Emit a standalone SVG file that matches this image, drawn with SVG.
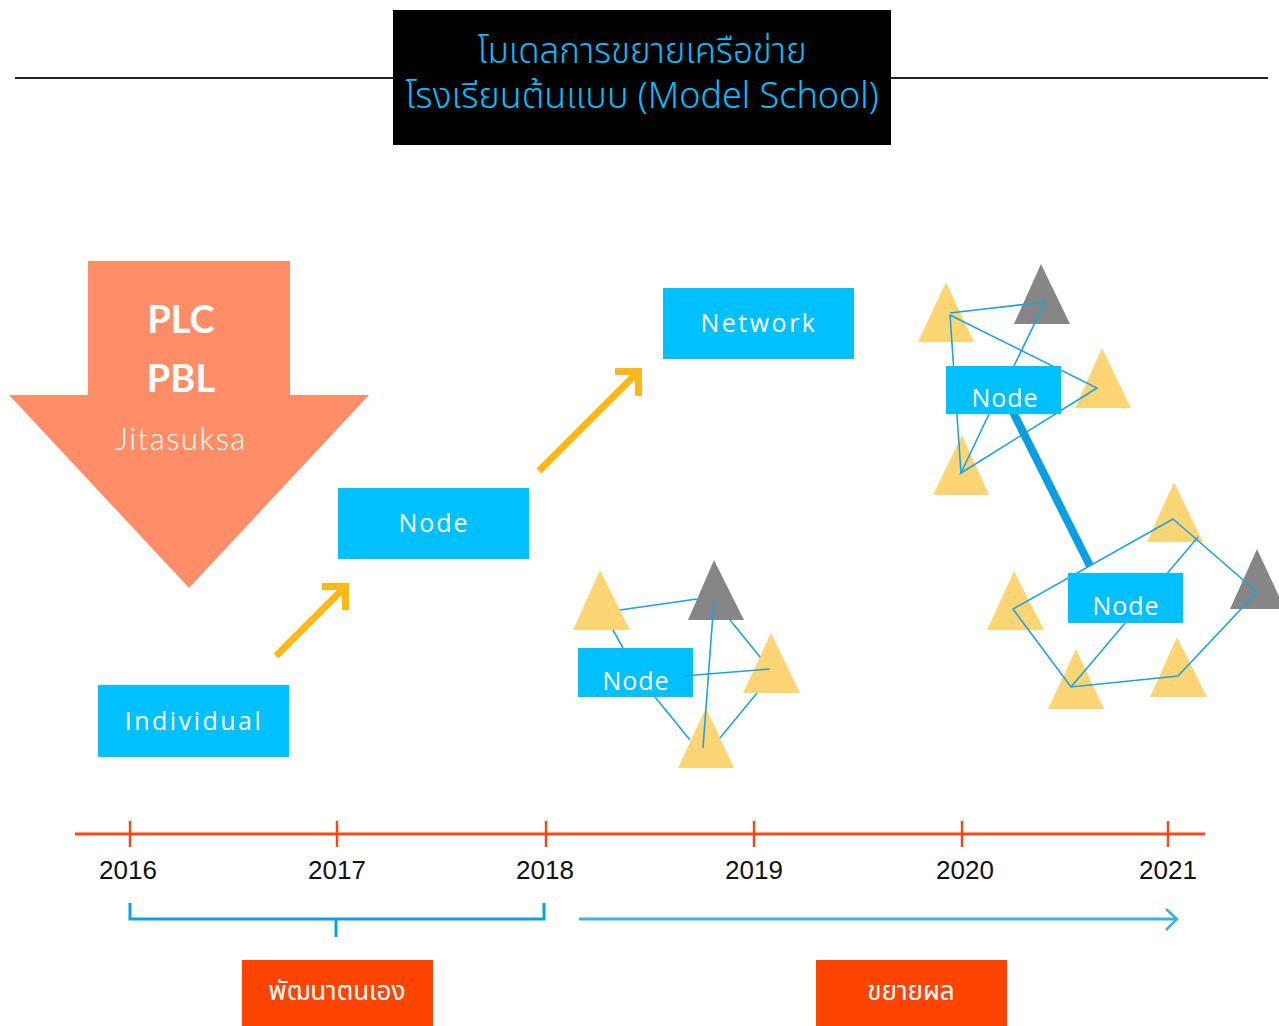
<svg xmlns="http://www.w3.org/2000/svg" width="1279" height="1026" viewBox="0 0 1279 1026">
<style>
.box{fill:#00c0ff}
.nt{font-family:"Open Sans","Lato","Liberation Sans",sans-serif;font-size:25px;fill:#fff;text-anchor:middle}
.yt{fill:#fed575}
.gt{fill:#868686}
.ln{stroke:#1ba3e3;stroke-width:1.6;fill:none}
.yr2{stroke:#fbb817;stroke-width:7;fill:none;stroke-linejoin:miter}
.year{font-family:"Liberation Sans","DejaVu Sans",sans-serif;font-size:26px;fill:#111;text-anchor:middle}
.th{font-family:"Noto Sans Thai","Noto Sans","DejaVu Sans",sans-serif}
.ob{fill:#fe4400}
</style>

<g id="title">
<line x1="15" y1="78" x2="1268" y2="78" stroke="#222" stroke-width="2"/>
<rect x="393" y="10" width="498" height="135" fill="#000"/>
<text x="642" y="63" class="th" font-size="35" font-weight="300" fill="#00c0ff" text-anchor="middle">โมเดลการขยายเครือข่าย</text>
<text x="642" y="108" class="th" font-size="36" font-weight="300" fill="#00c0ff" text-anchor="middle">โรงเรียนต้นแบบ (Model School)</text>
</g>

<g id="big-arrow">
<polygon points="88,261 290,261 290,395 369,395 189,588 9,395 88,395" fill="#ff8d68"/>
<text x="181" y="333" font-family="Lato,'Liberation Sans',sans-serif" font-weight="700" font-size="38" fill="#fff" text-anchor="middle">PLC</text>
<text x="181" y="392" font-family="Lato,'Liberation Sans',sans-serif" font-weight="700" font-size="38" fill="#fff" text-anchor="middle">PBL</text>
<text x="181" y="450" font-family="Lato,'Open Sans',sans-serif" font-weight="300" font-size="31" letter-spacing="1.5" fill="#fff" text-anchor="middle">Jitasuksa</text>
</g>

<g id="individual">
<rect class="box" x="98" y="685" width="191" height="72"/>
<text class="nt" x="194" y="730" font-size="29" letter-spacing="2.5">Individual</text>
</g>

<g id="node1">
<rect class="box" x="338" y="488" width="191" height="71"/>
<text class="nt" x="434" y="532" font-size="28" letter-spacing="2">Node</text>
</g>

<g id="network">
<rect class="box" x="663" y="288" width="191" height="71"/>
<text class="nt" x="759" y="332" font-size="28" letter-spacing="2.5">Network</text>
</g>

<g id="connectors">
<line x1="276" y1="656" x2="345" y2="587" class="yr2"/>
<polyline points="322,586.5 345.5,586.5 345.5,610" class="yr2"/>
<line x1="539" y1="471" x2="638" y2="372" class="yr2"/>
<polyline points="615,371.5 638.5,371.5 638.5,396" class="yr2"/>
</g>

<g id="cluster-1">
<polygon class="yt" points="600,570 573,630 630,630"/>
<polygon class="gt" points="714,560 688,620 744,620"/>
<polygon class="yt" points="771,633 743,693 800,693"/>
<polygon class="yt" points="706,708 678,768 734,768"/>
<line class="ln" x1="620" y1="610" x2="697" y2="599"/>
<line class="ln" x1="613" y1="630" x2="623" y2="648"/>
<line class="ln" x1="714" y1="600" x2="703" y2="748"/>
<line class="ln" x1="730" y1="620" x2="760" y2="657"/>
<line class="ln" x1="655" y1="697" x2="690" y2="740"/>
<line class="ln" x1="757" y1="693" x2="720" y2="738"/>
<rect class="box" x="578" y="648" width="115" height="49"/>
<text class="nt" x="636" y="690" letter-spacing="1">Node</text>
<line class="ln" x1="683" y1="676" x2="770" y2="669"/>
</g>

<g id="cluster-2">
<polygon class="yt" points="946,282 918,342 974,342"/>
<polygon class="gt" points="1041,264 1014,324 1070,324"/>
<polygon class="yt" points="1102,348 1075,408 1131,408"/>
<polygon class="yt" points="962,435 933,495 989,495"/>
<polyline class="ln" points="950,313 1045,302 1013,368"/>
<line class="ln" x1="950" y1="315" x2="961" y2="473"/>
<polyline class="ln" points="950,315 1097,388 961,473 990,412"/>
<line x1="1012" y1="410" x2="1090" y2="566" stroke="#0a9ee2" stroke-width="8"/>
<rect class="box" x="946" y="366" width="115" height="48"/>
<text class="nt" x="1005" y="407" letter-spacing="1">Node</text>
</g>

<g id="cluster-3">
<polygon class="yt" points="1174,482 1147,542 1203,542"/>
<polygon class="gt" points="1257,549 1230,609 1285,609"/>
<polygon class="yt" points="1014,571 987,630 1044,630"/>
<polygon class="yt" points="1076,649 1048,709 1104,709"/>
<polygon class="yt" points="1177,637 1150,697 1207,697"/>
<polygon class="ln" points="1173,519 1257,592 1178,676 1071,687 1013,609"/>
<line class="ln" x1="1198" y1="537" x2="1071" y2="687"/>
<rect class="box" x="1068" y="573" width="115" height="50"/>
<text class="nt" x="1126" y="615" letter-spacing="1">Node</text>
</g>

<g id="timeline">
<line x1="75" y1="834" x2="1205" y2="834" stroke="#f5491a" stroke-width="3"/>
<g stroke="#f5491a" stroke-width="2.5">
<line x1="130" y1="821" x2="130" y2="847"/>
<line x1="337" y1="821" x2="337" y2="847"/>
<line x1="546" y1="821" x2="546" y2="847"/>
<line x1="754" y1="821" x2="754" y2="847"/>
<line x1="962" y1="821" x2="962" y2="847"/>
<line x1="1168" y1="821" x2="1168" y2="847"/>
</g>
<text class="year" x="128" y="879">2016</text>
<text class="year" x="337" y="879">2017</text>
<text class="year" x="545" y="879">2018</text>
<text class="year" x="754" y="879">2019</text>
<text class="year" x="965" y="879">2020</text>
<text class="year" x="1168" y="879">2021</text>
</g>

<g id="brackets">
<polyline points="130,903 130,919 544,919 544,903" stroke="#0aa0e6" stroke-width="3" fill="none"/>
<line x1="336" y1="919" x2="336" y2="937" stroke="#0aa0e6" stroke-width="3"/>
<line x1="579" y1="919" x2="1177" y2="919" stroke="#3ab0ea" stroke-width="3"/>
<polyline points="1166,909 1177,919 1166,930" stroke="#3ab0ea" stroke-width="2.5" fill="none"/>
</g>

<g id="phase-1">
<rect class="ob" x="242" y="960" width="191" height="66"/>
<text x="337" y="1000" class="th" font-size="26" fill="#fff" text-anchor="middle">พัฒนาตนเอง</text>
</g>

<g id="phase-2">
<rect class="ob" x="816" y="960" width="191" height="66"/>
<text x="911" y="1000" class="th" font-size="26" fill="#fff" text-anchor="middle">ขยายผล</text>
</g>
</svg>
